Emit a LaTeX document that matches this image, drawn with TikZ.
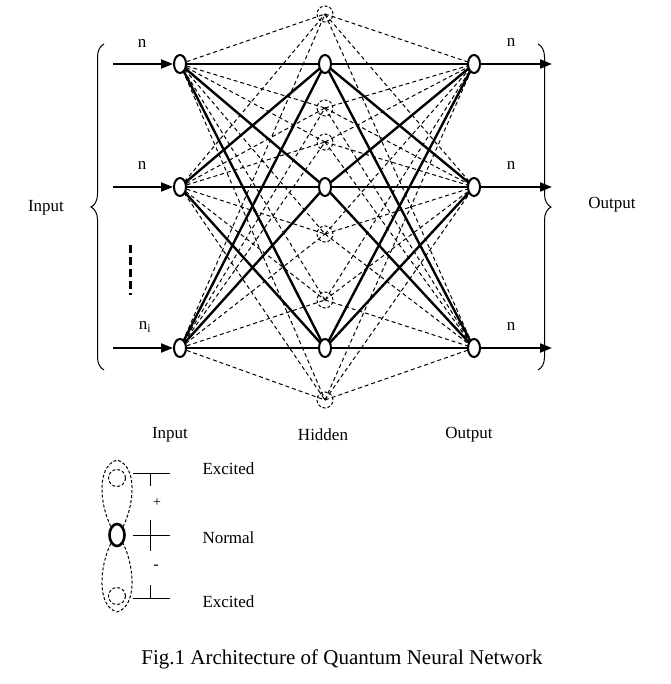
\documentclass[tikz,border=0pt]{standalone}
\usepackage{fontspec}
\setmainfont{Liberation Serif}
\usetikzlibrary{shapes.geometric,arrows.meta,decorations.pathreplacing}
\begin{document}
\begin{tikzpicture}[x=1pt,y=-1pt,
  neuron/.style={ellipse,draw,line width=2pt,fill=white,minimum width=12pt,minimum height=18pt,inner sep=0pt},
  exc/.style={circle,draw,dash pattern=on 3pt off 2pt,line width=1pt,minimum size=16pt,inner sep=0pt},
  solid link/.style={line width=2.4pt},
  dash link/.style={dash pattern=on 4pt off 3pt,line width=1pt},
  inarrow/.style={line width=2pt,-{Triangle[length=12pt,width=9pt]}},
  lbl/.style={font=\fontsize{17}{20}\selectfont}]
\useasboundingbox (0,0) rectangle (670,684);
\foreach \n/\y in {1/64,2/187,3/348}{
  \coordinate (i\n) at (180,\y);
  \coordinate (h\n) at (325,\y);
  \coordinate (o\n) at (474,\y);
}
\foreach \n/\y in {1/14,2/108,3/142,4/234,5/300,6/400}{
  \coordinate (e\n) at (325,\y);
}
\foreach \a in {1,2,3}{\foreach \e in {1,...,6}{
  \draw[dash link] (i\a) -- (e\e);
  \draw[dash link] (e\e) -- (o\a);
}}
\foreach \e in {1,...,6}{\node[exc] (E\e) at (e\e) {};}
\foreach \a in {1,2,3}{\foreach \b in {1,2,3}{
  \draw[solid link] (i\a) -- (h\b);
  \draw[solid link] (h\a) -- (o\b);
}}
\foreach \n in {1,2,3}{
  \node[neuron] (I\n) at (i\n) {};
  \node[neuron] (H\n) at (h\n) {};
  \node[neuron] (O\n) at (o\n) {};
}
\foreach \n/\y in {1/64,2/187,3/348}{
  \coordinate (ia\n) at (113,\y);
  \coordinate (oa\n) at (552,\y);
  \draw[inarrow] (ia\n) -- (I\n);
  \draw[inarrow] (O\n) -- (oa\n);
}
\node[lbl] (n1) at (142,43) {n};
\node[lbl] (n2) at (142,165) {n};
\node[lbl] (n3) at (145,327) {n\textsubscript{i}};
\node[lbl] (m1) at (511,42) {n};
\node[lbl] (m2) at (511,165) {n};
\node[lbl] (m3) at (511,326) {n};
\coordinate (d1) at (130,245); \coordinate (d2) at (130,295);
\draw[line width=3pt,dash pattern=on 8pt off 4pt] (d1) -- (d2);
\draw[decorate,decoration={brace,amplitude=13pt},line width=1pt] (104,370) -- (104,44);
\draw[decorate,decoration={brace,amplitude=13pt},line width=1pt] (538,44) -- (538,370);
\node[lbl] (inl) at (46,208) {Input};
\node[lbl] (outl) at (612,205) {Output};
\node[lbl] (L1) at (170,435) {Input};
\node[lbl] (L2) at (323,435) {Hidden};
\node[lbl] (L3) at (469,435) {Output};
% legend
\node[neuron,minimum width=15pt,minimum height=22pt,line width=2.6pt] (N) at (117,535) {};
\node[exc,minimum size=17pt] (LE1) at (117,478) {};
\node[exc,minimum size=17pt] (LE2) at (117,596) {};
\draw[dash pattern=on 3pt off 2pt,line width=1pt] (N.north west) .. controls (100,505) and (96,466) .. (117,460) .. controls (138,466) and (134,505) .. (N.north east);
\draw[dash pattern=on 3pt off 2pt,line width=1pt] (N.south west) .. controls (100,565) and (96,606) .. (117,612) .. controls (138,606) and (134,565) .. (N.south east);
\coordinate (t1a) at (133,473); \coordinate (t1b) at (170,473);
\coordinate (t2a) at (133,535); \coordinate (t2b) at (170,535);
\coordinate (t3a) at (133,598); \coordinate (t3b) at (170,598);
\draw[line width=1pt] (t1a) -- (t1b); \draw[line width=1pt] (t2a) -- (t2b); \draw[line width=1pt] (t3a) -- (t3b);
\coordinate (v1a) at (150,473); \coordinate (v1b) at (150,486);
\coordinate (v2a) at (150,520); \coordinate (v2b) at (150,551);
\coordinate (v3a) at (150,585); \coordinate (v3b) at (150,598);
\draw[line width=1pt] (v1a) -- (v1b); \draw[line width=1pt] (v2a) -- (v2b); \draw[line width=1pt] (v3a) -- (v3b);
\node[font=\fontsize{14}{16}\selectfont] (plus) at (157,503) {+};
\node[font=\fontsize{16}{16}\selectfont] (minus) at (156,567) {-};
\node[lbl,anchor=west] (x1) at (199,469) {Excited};
\node[lbl,anchor=west] (x2) at (199,538) {Normal};
\node[lbl,anchor=west] (x3) at (199,602) {Excited};
\node[font=\fontsize{21}{24}\selectfont] (cap) at (342,659) {Fig.1 Architecture of Quantum Neural Network};
\end{tikzpicture}
\end{document}
